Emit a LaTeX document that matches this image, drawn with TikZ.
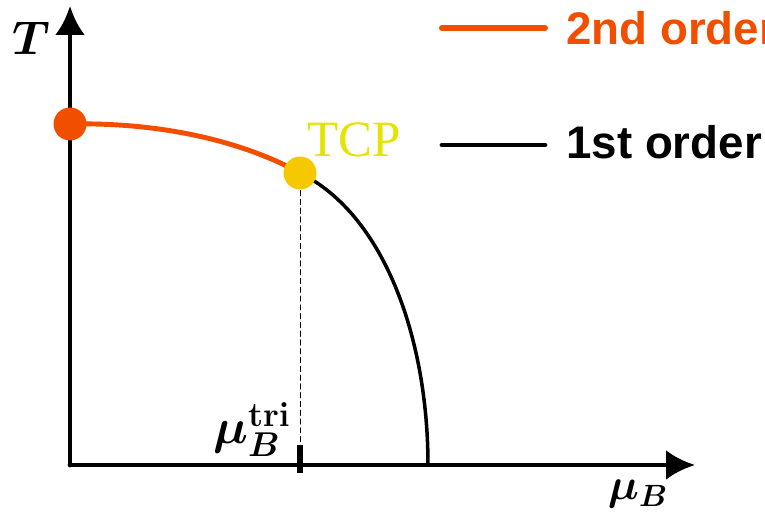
\RequirePackage{fix-cm}
\documentclass[tikz,border=0pt]{standalone}
\usepackage{fontspec}
\usepackage{bm}
\usetikzlibrary{arrows.meta}
\newfontfamily\legendfont{Liberation Sans}
\newfontfamily\tcpfont{Liberation Serif}
\definecolor{secondorder}{RGB}{242,78,0}
\definecolor{tcpdot}{RGB}{246,200,0}
\definecolor{tcptext}{RGB}{228,228,0}
\tikzset{
    axis/.style={line width=2.8pt,-{Latex[length=0.58cm,width=0.6cm]}},
    phasedot/.style={circle,inner sep=0pt,minimum size=0.66cm},
    legendtext/.style={anchor=base west,font=\legendfont\bfseries\fontsize{26}{30}\selectfont},
}
\begin{document}
\begin{tikzpicture}[x=0.02cm,y=-0.02cm,line cap=round]
        \useasboundingbox (0,0) rectangle (765,516);
        % draw the coordinates
        \coordinate (origin) at (70,465);
        \coordinate (ytip) at (70,6);
        \coordinate (xtip) at (695,465);
        \draw[axis] (origin) -- (ytip);
        \draw[axis] (origin) -- (xtip);
        \node (tlabel) at (31,38) {\fontsize{27}{30}\selectfont$\bm{T}$};
        \node[anchor=base] (mulabel) at (638,500) {\fontsize{25}{30}\selectfont$\bm{\mu_B}$};

        % draw the transition lines
        \coordinate (cep) at (70,124);
        \coordinate (tcp) at (300,173);
        \coordinate (zeroT) at (428,465);
        \draw[secondorder,line width=2.8pt] (cep) .. controls (170,122) and (250,145) .. (tcp);
        \draw[black,line width=2pt] (tcp) .. controls (385,215) and (428,340) .. (zeroT);

        % draw the tricritical projection
        \coordinate (tick top) at (300,445);
        \coordinate (tick bot) at (300,473);
        \draw[dashed,line width=0.5pt,dash pattern=on 3pt off 2pt] (tcp) -- (tick top);
        \draw[line width=3.4pt,line cap=butt] (tick top) -- (tick bot);
        \node[anchor=base east,inner sep=0pt] (mutri) at (291,444)
            {\fontsize{28}{32}\selectfont$\bm{\mu_B^{\mathbf{tri}}}$};

        % draw the points
        \node[phasedot,fill=secondorder] (cepdot) at (cep) {};
        \node[phasedot,fill=tcpdot] (tcpdot) at (tcp) {};
        \node[anchor=base west,inner sep=0pt,text=tcptext] (tcplabel) at (307,157)
            {\tcpfont\fontsize{29}{32}\selectfont TCP};

        % draw the legend
        \coordinate (leg2a) at (442,28);
        \coordinate (leg2b) at (545,28);
        \coordinate (leg1a) at (442,145);
        \coordinate (leg1b) at (545,145);
        \draw[secondorder,line width=3.4pt] (leg2a) -- (leg2b);
        \draw[black,line width=2.8pt] (leg1a) -- (leg1b);
        \node[legendtext,text=secondorder,inner sep=0pt] (leg2text) at (566,45) {2nd order};
        \node[legendtext,text=black,inner sep=0pt] (leg1text) at (566,159) {1st order};
\end{tikzpicture}
\end{document}
